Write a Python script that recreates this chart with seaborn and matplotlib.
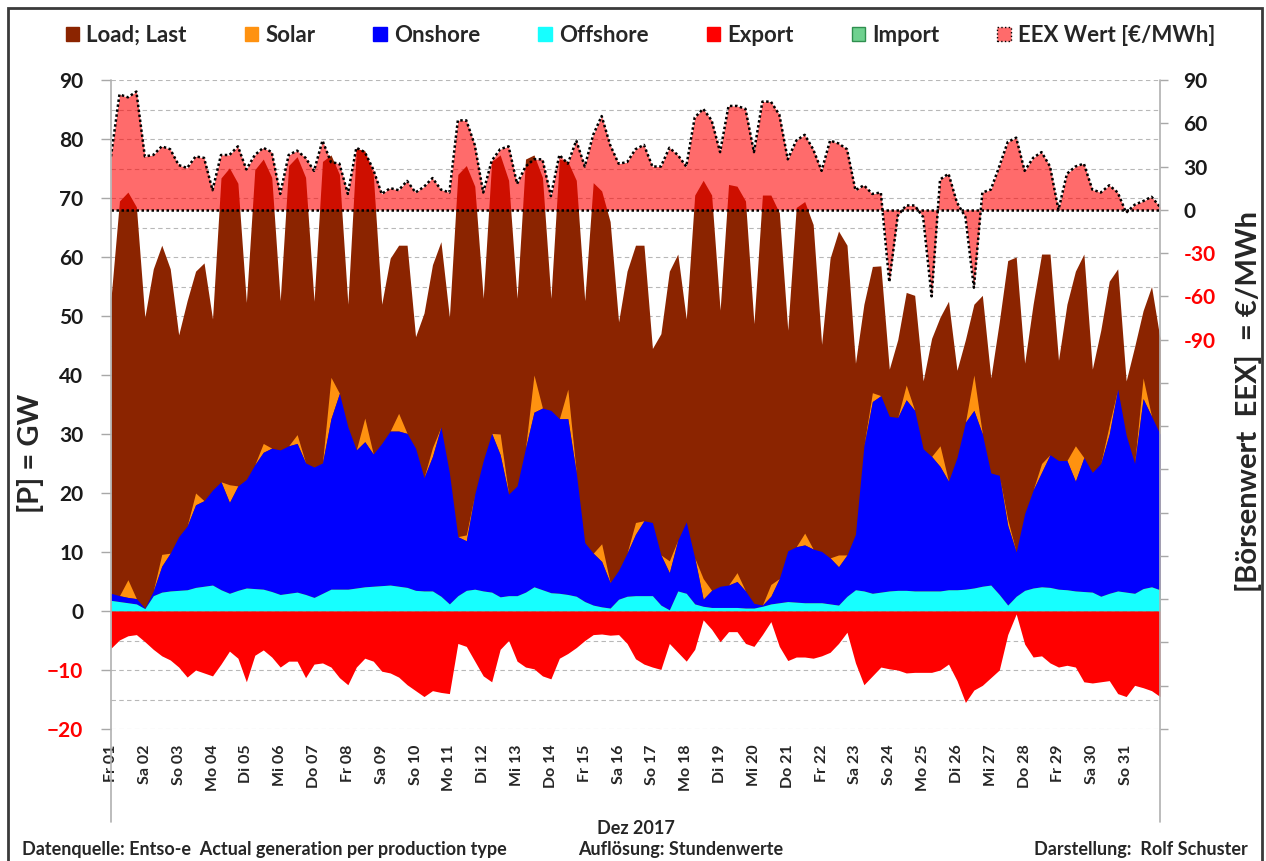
import numpy as np
import pandas as pd
import seaborn as sns
import matplotlib.pyplot as plt
from matplotlib.patches import Patch, Rectangle
from matplotlib.lines import Line2D

sns.set_theme(style="white")
plt.rcParams['font.family'] = ['Lato', 'DejaVu Sans']

# ---------------- data (6-hourly samples, Dez 2017) ----------------
hours = np.arange(0, 745, 6)

day_labels = ['Fr 01', 'Sa 02', 'So 03', 'Mo 04', 'Di 05', 'Mi 06', 'Do 07', 'Fr 08',
              'Sa 09', 'So 10', 'Mo 11', 'Di 12', 'Mi 13', 'Do 14', 'Fr 15', 'Sa 16',
              'So 17', 'Mo 18', 'Di 19', 'Mi 20', 'Do 21', 'Fr 22', 'Sa 23', 'So 24',
              'Mo 25', 'Di 26', 'Mi 27', 'Do 28', 'Fr 29', 'Sa 30', 'So 31']

load = [53, 69.5, 71, 68.5,  49.8, 58, 62, 58,  46.8, 52.6, 57.6, 59,  49.5, 73.4, 75.1, 72.5,
        52.3, 74.8, 76.6, 73.5,  52.6, 75.5, 77, 73.5,  52.5, 76.2, 77.3, 74,  52, 78.4, 78, 74,
        52, 59.8, 62, 62,  46.5, 50.5, 58.7, 62.6,  49.8, 74, 75.5, 72,  53, 76.2, 77.3, 73,
        53, 76.6, 77.3, 73.5,  53, 76.6, 76.2, 73,  52.6, 72.6, 71.2, 66,  49, 57.6, 62, 62,
        44.5, 47, 57.6, 60.5,  49.5, 70.5, 73, 70.5,  51, 72.3, 72, 69.5,  48.7, 70.5, 70.5, 67.5,
        47.6, 68.4, 69.4, 65.5,  45.2, 59.8, 64.4, 62,  42, 52, 58.4, 58.5,  41, 46, 54, 53.5,
        39, 46.2, 49.8, 52.5,  40.8, 46, 52, 53.5,  39.5, 49, 59.4, 60,  42, 52, 60.5, 60.5,
        42.5, 52, 57.6, 60.5,  41, 47.6, 55.9, 58,  39, 44.8, 50.9, 55,  46.2]

offshore = [1.8, 1.6, 1.4, 1.2,  0.4, 2.6, 3.2, 3.4,  3.5, 3.6, 4.0, 4.2,  4.4, 3.6, 3.0, 3.5,
            3.9, 3.8, 3.7, 3.3,  2.8, 3.0, 3.2, 2.8,  2.3, 3.0, 3.7, 3.7,  3.7, 3.9, 4.1, 4.2,
            4.3, 4.4, 4.2, 4.0,  3.5, 3.4, 3.4, 2.5,  1.2, 2.6, 3.5, 3.7,  3.4, 3.2, 2.4, 2.6,
            2.6, 3.2, 4.1, 3.6,  3.1, 3.0, 2.8, 2.5,  1.6, 1.0, 0.7, 0.5,  2.0, 2.5, 2.6, 2.6,
            2.6, 1.0, 0.2, 3.4,  3.0, 1.2, 0.8, 0.6,  0.6, 0.6, 0.6, 0.5,  0.5, 0.8, 1.2, 1.4,
            1.6, 1.5, 1.4, 1.4,  1.4, 1.2, 1.0, 2.5,  3.6, 3.4, 3.0, 3.2,  3.4, 3.5, 3.5, 3.4,
            3.4, 3.4, 3.4, 3.6,  3.6, 3.7, 3.9, 4.2,  4.4, 2.8, 1.0, 2.5,  3.5, 3.9, 4.1, 4.0,
            3.7, 3.6, 3.4, 3.3,  3.2, 2.5, 3.0, 3.4,  3.2, 3.0, 3.8, 4.1,  3.6]

onshore = [1.2, 1.0, 0.9, 0.9,  0.1, 0.8, 4.4, 6.4,  9.1, 10.8, 14.0, 14.5,  16.1, 18.3, 15.4, 17.7,
           18.4, 21.0, 23.2, 24.3,  24.5, 25.0, 25.2, 22.3,  22.1, 22.1, 28.9, 33.2,  27.5, 23.4, 24.6, 22.4,
           24.1, 26.1, 26.3, 26.1,  24.1, 19.2, 22.8, 28.7,  22.2, 10.0, 8.4, 16.1,  22.1, 26.9, 24.1, 17.2,
           18.6, 24.4, 29.6, 30.8,  30.9, 29.6, 29.8, 20.9,  10.0, 8.8, 7.7, 4.3,  4.9, 7.3, 10.4, 12.7,
           12.4, 8.5, 6.3, 8.6,  12.1, 7.8, 1.2, 2.9,  3.6, 3.8, 4.4, 2.9,  0.8, 0.2, 1.3, 4.1,
           8.6, 9.4, 9.8, 9.1,  8.7, 7.8, 6.5, 7.0,  9.4, 24.6, 32.5, 33.3,  29.6, 29.3, 32.3, 30.6,
           24.1, 22.8, 21.1, 18.4,  22.4, 28.3, 30.1, 25.8,  19.0, 20.2, 13.5, 7.5,  13.0, 16.6, 19.4, 22.5,
           21.8, 21.9, 18.6, 22.7,  20.3, 22.5, 27.0, 34.2,  26.6, 22.0, 32.2, 28.9,  26.4]

solar = [0, 0, 3.0, 0,  0, 0, 2.0, 0,  0, 0, 2.0, 0,  0, 0, 3.0, 0,
         0, 0, 1.5, 0,  0, 0, 1.5, 0,  0, 0, 7.0, 0,  0, 0, 4.0, 0,
         0, 0, 3.0, 0,  0, 0, 1.5, 0,  0, 0, 1.0, 0,  0, 0, 3.5, 0,
         0, 0, 6.3, 0,  0, 0, 5.0, 0,  0, 0, 3.0, 0,  0, 0, 2.0, 0,
         0, 0, 2.0, 0,  0, 0, 3.5, 0,  0, 0, 1.5, 0,  0, 0, 2.0, 0,
         0, 0, 2.0, 0,  0, 0, 2.0, 0,  0, 0, 1.5, 0,  0, 0, 2.5, 0,
         0, 0, 3.5, 0,  0, 0, 6.0, 0,  0, 0, 1.0, 0,  0, 0, 1.5, 0,
         0, 0, 6.0, 0,  0, 0, 1.5, 0,  0, 0, 3.5, 0,  0]

export = [-6.3, -4.9, -4.2, -4.0,  -5.2, -6.5, -7.6, -8.3,  -9.5, -11.2, -10, -10.5,  -11, -9, -6.8, -8,
          -12, -7.5, -6.6, -7.8,  -9.5, -8.5, -8.5, -11.3,  -9, -8.8, -9.5, -11.3,  -12.5, -9.5, -8.0, -8.5,
          -10.2, -10.5, -11.2, -12.5,  -13.5, -14.5, -13.5, -13.8,  -14.0, -5.5, -6, -8.5,  -11, -12, -6.5, -5,
          -8.5, -9.5, -9.8, -11,  -11.5, -8, -7.2, -6.2,  -5, -4, -3.9, -4.1,  -4, -5.5, -8.1, -9,
          -9.5, -9.9, -5.5, -7,  -8.5, -6.5, -1.5, -3.1,  -5.2, -3.5, -3.5, -5.5,  -6, -4, -1.8, -6,
          -8.4, -7.8, -7.8, -8,  -7.6, -7, -5.5, -3.6,  -8.8, -12.5, -11, -9.5,  -9.8, -10, -10.5, -10.4,
          -10.4, -10.4, -10, -9,  -11.8, -15.5, -13.4, -12.6,  -11.3, -10, -4, -0.5,  -5.6, -7.8, -7.6, -8.8,
          -9.5, -9.2, -9.5, -12,  -12.2, -12, -11.8, -14,  -14.5, -12.6, -13, -13.5,  -14.5]

price = [37, 80, 78, 82,  37, 38, 44, 42,  31, 29, 37, 36,  13.6, 38, 38, 44,
         28, 38, 43, 40,  11, 38, 41, 36,  27, 48, 33, 32,  11, 43, 40, 28,
         11, 15, 13.6, 20,  12, 16, 22, 14,  12, 62, 62, 45,  12, 34, 42, 44,
         18, 30, 35, 35,  9.5, 38, 32, 48,  30, 52, 65, 45,  32, 33, 42, 45,
         30, 30, 43, 38,  30, 64, 70, 62,  40, 72, 72, 70,  40, 75, 75, 66,
         35, 48, 52, 42,  27, 48, 46, 42,  13.6, 17, 11, 12,  -50, -4, 3, 3,
         -5, -60, 21, 25,  5, -5, -54, 12,  14, 30, 47, 50,  27, 36, 40, 30,
         0, 25, 30, 32,  14, 12, 17, 12,  -2, 3.5, 6, 9,  2]

df = pd.DataFrame({'hour': hours, 'load': load, 'offshore': offshore, 'onshore': onshore,
                   'solar': solar, 'export': export, 'price': price})

# ---------------- styling ----------------
C_LOAD = '#8B2400'
C_SOLAR = '#FF9210'
C_ON = '#0000FF'
C_OFF = '#16FFFF'
C_EXP = '#FF0000'
C_IMP = '#6FD18F'
C_EEX = '#FF0000'

W, H = 1266, 861
fig = plt.figure(figsize=(W / 100, H / 100), dpi=100)
L, R, T, B = 111, 1160, 80, 729
ax = fig.add_axes([L / W, 1 - B / H, (R - L) / W, (B - T) / H])
ax.set_xlim(0, 744)
ax.set_ylim(-20, 90)

off = df['offshore'].to_numpy()
on_top = off + df['onshore'].to_numpy()
sol_top = on_top + df['solar'].to_numpy()

ax.fill_between(df['hour'], 0, df['load'], color=C_LOAD, lw=0, zorder=1)
ax.fill_between(df['hour'], on_top, sol_top, color=C_SOLAR, lw=0, zorder=3)
ax.fill_between(df['hour'], off, on_top, color=C_ON, lw=0, zorder=3)
ax.fill_between(df['hour'], 0, off, color=C_OFF, lw=0, zorder=3)
ax.fill_between(df['hour'], df['export'], 0, color=C_EXP, lw=0, zorder=3)

# grid
ax.set_yticks(np.arange(-20, 91, 10))
ax.set_yticks(np.arange(-15, 90, 10), minor=True)
ax.grid(which='both', axis='y', color='#B8B8B8', linestyle=(0, (4, 3)), lw=0.8)
ax.set_axisbelow(True)

ax.set_xticks(np.arange(0, 744, 24))
ax.set_xticklabels(day_labels, rotation=90, fontsize=11.5, fontweight='bold', va='top')
ax.tick_params(axis='x', length=0, pad=11)
ax.tick_params(axis='y', which='major', length=7, width=1, color='#A8A8A8', pad=13, labelsize=15)
ax.tick_params(axis='y', which='minor', length=0)
for lab, v in zip(ax.get_yticklabels(), np.arange(-20, 91, 10)):
    lab.set_fontweight('bold')
    lab.set_color('#FF0000' if v < 0 else '#1A1A1A')
for s in ax.spines.values():
    s.set_visible(False)

# price on secondary axis
ax2 = ax.twinx()
ax2.set_ylim(-360, 90)
ax2.fill_between(df['hour'], 0, df['price'], color=C_EEX, alpha=0.58, lw=0, zorder=2)
sns.lineplot(data=df, x='hour', y='price', ax=ax2, color='black', lw=1.8,
             linestyle=(0, (1, 1)), estimator=None, sort=False, zorder=4)
ax2.axhline(0, color='black', lw=1.8, linestyle=(0, (1, 1)), zorder=4)
ax2.set_xlim(0, 744)
rticks = np.arange(90, -361, -30)
ax2.set_yticks(rticks)
ax2.set_yticklabels([str(v) if v >= -90 else '' for v in rticks])
for lab, v in zip(ax2.get_yticklabels(), rticks):
    lab.set_fontweight('bold')
    lab.set_color('#FF0000' if v < 0 else '#1A1A1A')
ax2.tick_params(axis='y', length=6, width=1, color='#A8A8A8', pad=11, labelsize=15)
ax2.set_ylabel('')
ax2.set_xlabel('')
ax.set_xlabel('')
for s in ax2.spines.values():
    s.set_visible(False)

# plot-area side lines
for xp in (L, R):
    fig.add_artist(Line2D([xp / W, xp / W], [1 - T / H, 1 - 822 / H], color='#B0B0B0', lw=1.2))

# outer frame
fig.add_artist(Rectangle((8 / W, -0.02), (1262 - 8) / W, 1 - 8 / H + 0.02, fill=False,
                         edgecolor='#3A3A3A', lw=2, transform=fig.transFigure))

# axis titles
fig.text(31 / W, 1 - 453 / H, '[P] = GW', rotation=90, ha='center', va='center',
         fontsize=21, fontweight='bold')
fig.text(1249 / W, 1 - 401 / H, '[Börsenwert  EEX]  = €/MWh', rotation=90, ha='center',
         va='center', fontsize=21, fontweight='bold')

# legend
handles = [Patch(facecolor=C_LOAD, edgecolor=C_LOAD),
           Patch(facecolor=C_SOLAR, edgecolor=C_SOLAR),
           Patch(facecolor=C_ON, edgecolor=C_ON),
           Patch(facecolor=C_OFF, edgecolor=C_OFF),
           Patch(facecolor=C_EXP, edgecolor=C_EXP),
           Patch(facecolor=C_IMP, edgecolor='#2F8F4F', lw=1),
           Patch(facecolor='#FF6B6B', edgecolor='black', linestyle=':', lw=1)]
labels = ['Load; Last', 'Solar', 'Onshore', 'Offshore', 'Export', 'Import', 'EEX Wert [€/MWh]']
fig.legend(handles, labels, loc='center', bbox_to_anchor=(0.506, 1 - 35 / H), ncol=7,
           frameon=False, prop=dict(weight='bold', size=16), handlelength=0.62,
           handleheight=0.6, handletextpad=0.32, columnspacing=2.6)

# bottom texts
fig.text(636 / W, 1 - 828 / H, 'Dez 2017', ha='center', va='center', fontsize=13, fontweight='bold')
fig.text(22 / W, 1 - 849 / H, 'Datenquelle: Entso-e  Actual generation per production type',
         ha='left', va='center', fontsize=13, fontweight='bold')
fig.text(578 / W, 1 - 849 / H, 'Auflösung: Stundenwerte', ha='left', va='center',
         fontsize=13, fontweight='bold')
fig.text(1248 / W, 1 - 849 / H, 'Darstellung:  Rolf Schuster', ha='right', va='center',
         fontsize=13, fontweight='bold')

fig.savefig('out.png', dpi=100, facecolor='white')
